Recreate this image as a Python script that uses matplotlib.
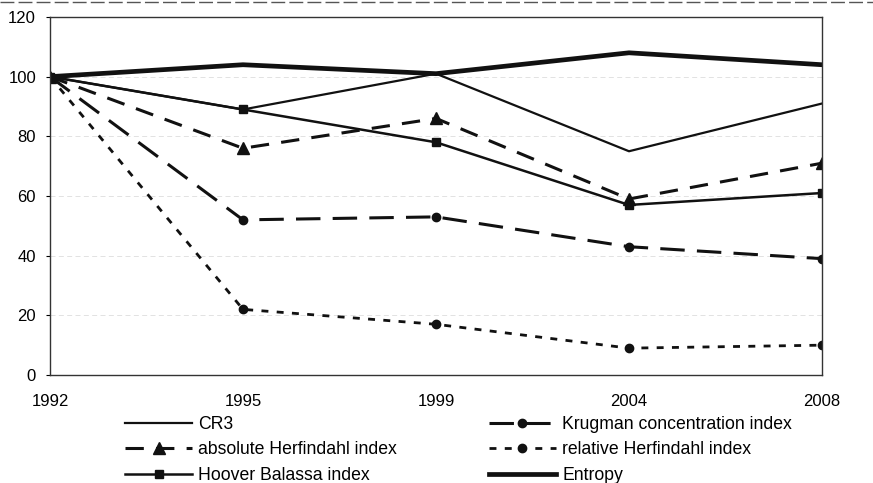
import matplotlib
matplotlib.use("Agg")
import matplotlib.pyplot as plt
from matplotlib.lines import Line2D

plt.rcParams['font.family'] = ['Liberation Sans', 'DejaVu Sans']

years = ["1992", "1995", "1999", "2004", "2008"]
cr3 = [100, 89, 101, 75, 91]
krugman = [100, 52, 53, 43, 39]
abs_herfindahl = [100, 76, 86, 59, 71]
rel_herfindahl = [100, 22, 17, 9, 10]
hoover_balassa = [100, 89, 78, 57, 61]
entropy = [100, 104, 101, 108, 104]
y_ticks = [0, 20, 40, 60, 80, 100, 120]

fig = plt.figure(figsize=(8.73, 4.83), dpi=100)
ax = fig.add_axes([50 / 873, 1 - 375 / 483, (822 - 50) / 873, (375 - 17) / 483])

x = list(range(len(years)))
ink = "#111111"

h_cr3, = ax.plot(x, cr3, color=ink, lw=1.6, label="CR3")
h_kru, = ax.plot(x, krugman, color=ink, lw=2.2, dashes=(8, 4), marker="o", ms=6,
                 label="Krugman concentration index")
h_abs, = ax.plot(x, abs_herfindahl, color=ink, lw=2.2, dashes=(6, 4), marker="^", ms=8,
                 label="absolute Herfindahl index")
h_rel, = ax.plot(x, rel_herfindahl, color=ink, lw=2.0, dashes=(2.5, 3), marker="o", ms=6,
                 label="relative Herfindahl index")
h_hoo, = ax.plot(x, hoover_balassa, color=ink, lw=1.8, marker="s", ms=6,
                 label="Hoover Balassa index")
h_ent, = ax.plot(x, entropy, color=ink, lw=3.4, label="Entropy")

ax.set_xlim(0, len(years) - 1)
ax.set_ylim(0, 120)
ax.set_yticks(y_ticks)
ax.set_xticks(x)
ax.set_xticklabels(years)
ax.tick_params(axis="x", length=0, pad=14, labelsize=12)
ax.tick_params(axis="y", length=3, direction="out", pad=7, labelsize=12)
ax.yaxis.grid(True, color="#dddddd", lw=0.6, ls=(0, (6, 4)))
ax.set_axisbelow(True)
for s in ax.spines.values():
    s.set_color("#333333")
    s.set_linewidth(1.0)

# top rule across the page
fig.add_artist(Line2D([0, 1], [1 - 2 / 483, 1 - 2 / 483], transform=fig.transFigure,
                      color="#555555", lw=1.0, ls=(0, (10, 3))))

# legend laid out column by column: left column first, then right column
handles = [h_cr3, h_abs, h_hoo, h_kru, h_rel, h_ent]
fig.legend(handles, [h.get_label() for h in handles],
           loc="upper left", bbox_to_anchor=(125 / 873, 1 - 416 / 483),
           ncol=2, frameon=False, fontsize=12.7, handlelength=3.8,
           handletextpad=0.35, columnspacing=5.2, labelspacing=0.48,
           borderpad=0, borderaxespad=0)

fig.savefig("out.png", dpi=100)
